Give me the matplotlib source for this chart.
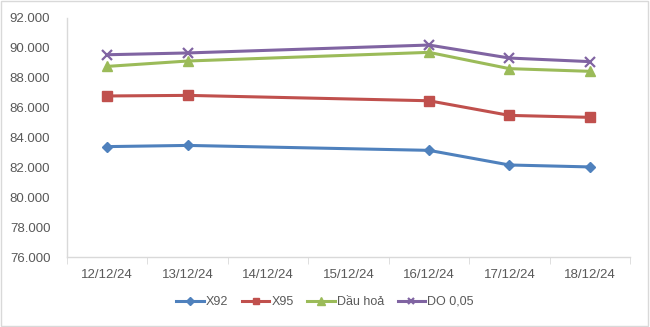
import matplotlib.pyplot as plt
import numpy as np
from matplotlib.patches import Rectangle
from matplotlib.ticker import FuncFormatter

dates = ["12/12/24", "13/12/24", "14/12/24", "15/12/24", "16/12/24", "17/12/24", "18/12/24"]
# no quotes published on 14/12 and 15/12
x92 = [83.39, 83.47, np.nan, np.nan, 83.14, 82.16, 82.03]
x95 = [86.78, 86.82, np.nan, np.nan, 86.46, 85.48, 85.35]
dau_hoa = [88.76, 89.12, np.nan, np.nan, 89.70, 88.61, 88.43]
do005 = [89.54, 89.66, np.nan, np.nan, 90.19, 89.32, 89.08]

series = [
    ("X92", x92, "#4F81BD", "D", 5.5),
    ("X95", x95, "#C0504D", "s", 7),
    ("Dầu hoả", dau_hoa, "#9BBB59", "^", 7.5),
    ("DO 0,05", do005, "#8064A2", "x", 7),
]

plt.rcParams['font.family'] = ['Liberation Sans', 'DejaVu Sans']

fig = plt.figure(figsize=(6.5, 3.27), dpi=100)
fig.patches.append(Rectangle((0.002, 0.003), 0.995, 0.994, transform=fig.transFigure,
                             fill=False, edgecolor="#d9d9d9", linewidth=1))
ax = fig.add_axes([67 / 650, 1 - 257 / 327, (630 - 67) / 650, (257 - 18) / 327])

idx = np.arange(len(dates))
for name, vals, color, marker, ms in series:
    v = np.array(vals, dtype=float)
    ok = ~np.isnan(v)
    mew = 1.6 if marker == "x" else 1
    ax.plot(idx[ok], v[ok] * 1000, color=color, linewidth=2.2, marker=marker,
            markersize=ms, markeredgewidth=mew, label=name)

ax.set_xlim(-0.5, len(dates) - 0.5)
ax.set_ylim(76000, 92000)
ax.set_yticks(np.arange(76000, 92001, 2000))
ax.yaxis.set_major_formatter(FuncFormatter(lambda v, p: f"{v / 1000:.3f}"))
ax.set_xticks(idx)
ax.set_xticklabels(dates)
ax.set_xticks(np.arange(-0.5, len(dates)), minor=True)

for s in ["top", "right"]:
    ax.spines[s].set_visible(False)
for s in ["left", "bottom"]:
    ax.spines[s].set_color("#d9d9d9")
    ax.spines[s].set_linewidth(1)

ax.tick_params(axis="y", length=0, pad=12, labelsize=9.5, labelcolor="#595959")
ax.tick_params(axis="x", which="major", length=0, pad=9, labelsize=9.5, labelcolor="#595959")
ax.tick_params(axis="x", which="minor", length=5, color="#d9d9d9", direction="out")

ax.legend(loc="center", bbox_to_anchor=(0.5, (327 - 302) / 327), bbox_transform=fig.transFigure,
          ncol=4, frameon=False, fontsize=9, labelcolor="#595959", handlelength=2.2,
          handletextpad=0.15, columnspacing=1.1, markerscale=0.7)

fig.savefig("out.png", dpi=100)
